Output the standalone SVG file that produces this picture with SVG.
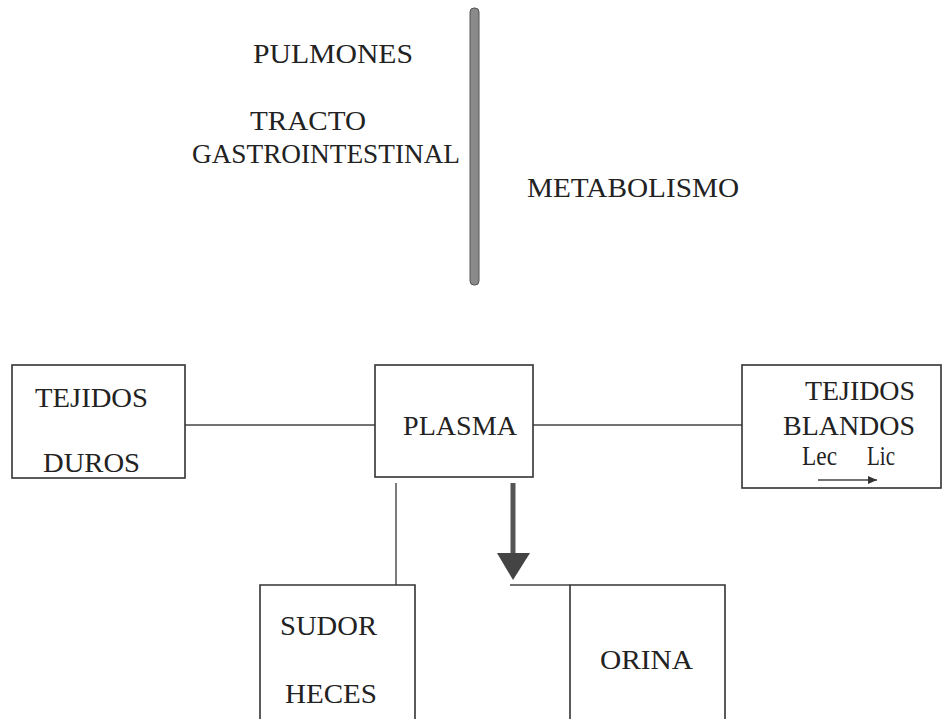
<svg xmlns="http://www.w3.org/2000/svg" width="945" height="719" viewBox="0 0 945 719">
<style>
.t{font-family:'Liberation Serif','Tinos','DejaVu Serif',serif;font-size:28px;fill:#222}
.box{fill:#fff;stroke:#333;stroke-width:1.6}
.ln{stroke:#444;stroke-width:1.4;fill:none}
</style>
<defs>
<marker id="small" markerWidth="10" markerHeight="8" refX="9" refY="4" orient="auto" markerUnits="userSpaceOnUse">
<path d="M0,0 L9,4 L0,8 Z" fill="#333"/>
</marker>
</defs>
<rect width="945" height="719" fill="#fff"/>
<g id="barrier">
<rect x="470" y="8" width="9" height="277" rx="4" fill="#8a8a8a" stroke="#555" stroke-width="1"/>
</g>
<g id="labels-top" class="t" font-family="Liberation Serif, DejaVu Serif, serif">
<text x="253" y="63" textLength="160" lengthAdjust="spacingAndGlyphs">PULMONES</text>
<text x="250" y="130" textLength="116" lengthAdjust="spacingAndGlyphs">TRACTO</text>
<text x="192" y="163" textLength="268" lengthAdjust="spacingAndGlyphs">GASTROINTESTINAL</text>
<text x="527" y="197" textLength="212" lengthAdjust="spacingAndGlyphs">METABOLISMO</text>
</g>
<g id="connectors">
<line class="ln" x1="185" y1="425" x2="375" y2="425"/>
<line class="ln" x1="533" y1="425" x2="742" y2="425"/>
<line class="ln" x1="396" y1="483" x2="396" y2="585"/>
<line x1="513" y1="483" x2="513" y2="556" stroke="#555" stroke-width="5"/>
<path d="M497,553 L530,553 L513,580 Z" fill="#444"/>
</g>
<g id="tejidos-duros" class="t" font-family="Liberation Serif, DejaVu Serif, serif">
<rect class="box" x="12" y="365" width="173" height="113"/>
<text x="35" y="407" textLength="113" lengthAdjust="spacingAndGlyphs">TEJIDOS</text>
<text x="43" y="472" textLength="97" lengthAdjust="spacingAndGlyphs">DUROS</text>
</g>
<g id="plasma" class="t" font-family="Liberation Serif, DejaVu Serif, serif">
<rect class="box" x="375" y="365" width="158" height="112"/>
<text x="403" y="435" textLength="114" lengthAdjust="spacingAndGlyphs">PLASMA</text>
</g>
<g id="tejidos-blandos" class="t" font-family="Liberation Serif, DejaVu Serif, serif">
<rect class="box" x="742" y="365" width="199" height="123"/>
<text x="805" y="400" textLength="110" lengthAdjust="spacingAndGlyphs">TEJIDOS</text>
<text x="783" y="435" textLength="132" lengthAdjust="spacingAndGlyphs">BLANDOS</text>
<text x="802" y="465" textLength="35" lengthAdjust="spacingAndGlyphs">Lec</text>
<text x="867" y="465" textLength="28" lengthAdjust="spacingAndGlyphs">Lic</text>
<line class="ln" x1="818" y1="480" x2="877" y2="480" marker-end="url(#small)"/>
</g>
<g id="sudor-heces" class="t" font-family="Liberation Serif, DejaVu Serif, serif">
<path class="box" d="M260,719 L260,585 L415,585 L415,719"/>
<text x="280" y="635" textLength="97" lengthAdjust="spacingAndGlyphs">SUDOR</text>
<text x="285" y="703" textLength="92" lengthAdjust="spacingAndGlyphs">HECES</text>
</g>
<g id="orina" class="t" font-family="Liberation Serif, DejaVu Serif, serif">
<path class="box" d="M570,719 L570,585 L725,585 L725,719"/>
<line class="ln" x1="510" y1="585" x2="570" y2="585"/>
<text x="600" y="669" textLength="93" lengthAdjust="spacingAndGlyphs">ORINA</text>
</g>
</svg>
